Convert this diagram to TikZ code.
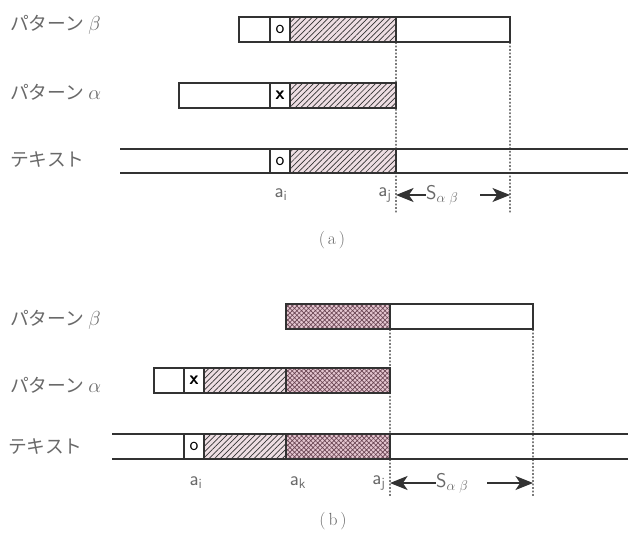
\documentclass[tikz,border=0pt]{standalone}
\usepackage{fontspec}
\newfontfamily\jpfont{Noto Sans CJK JP}
\usetikzlibrary{positioning, arrows.meta, patterns.meta}

\definecolor{hatchbg}{RGB}{238,222,227}
\definecolor{crossbg}{RGB}{228,198,208}
\definecolor{crossline}{RGB}{105,68,82}
\definecolor{inkgray}{RGB}{50,50,50}
\definecolor{labelgray}{RGB}{105,105,105}

\begin{document}
\begin{tikzpicture}[
	x=0.03cm, y=-0.03cm,
	cell/.style={rectangle, draw=inkgray, line width=0.9pt, minimum height=0.75cm, inner sep=0pt, outer sep=0pt, font=\sffamily\fontsize{16}{18}\selectfont},
	hatched/.style={cell, preaction={fill=hatchbg}, pattern={Lines[angle=45, distance=3.4pt, line width=0.6pt]}, pattern color=inkgray},
	crossed/.style={cell, preaction={fill=crossbg}, pattern={Hatch[angle=45, distance=2.8pt, line width=0.55pt]}, pattern color=crossline},
	rowlabel/.style={anchor=west, inner sep=0pt, text=labelgray, font=\jpfont\fontsize{16}{18}\selectfont},
	poslabel/.style={inner sep=1pt, text=labelgray, font=\sffamily\fontsize{17}{19}\selectfont},
	guide/.style={inkgray, line width=1pt, dash pattern=on 1.5pt off 1.5pt},
	track/.style={inkgray, line width=0.9pt},
	dim/.style={-{Stealth[length=15pt, width=12pt, inset=4pt]}, inkgray, line width=1pt},
]
	\useasboundingbox (0,0) rectangle (628,538);

	% (a) pattern beta
	\node[rowlabel] (la-beta) at (10,25) {パターン $\beta$};
	\node[cell, minimum width=0.93cm, anchor=west] (ab1) at (239,29.5) {};
	\node[cell, minimum width=0.6cm, right=0pt of ab1] (ab2) {o};
	\node[hatched, minimum width=3.18cm, right=0pt of ab2] (ab3) {};
	\node[cell, minimum width=3.42cm, right=0pt of ab3] (ab4) {};

	% (a) pattern alpha
	\node[rowlabel] (la-alpha) at (10,92) {パターン $\alpha$};
	\node[cell, minimum width=2.73cm, anchor=west] (aa1) at (179,95.5) {};
	\node[cell, minimum width=0.6cm, right=0pt of aa1, font=\sffamily\bfseries\fontsize{16}{18}\selectfont] (aa2) {x};
	\node[hatched, minimum width=3.18cm, right=0pt of aa2] (aa3) {};

	% (a) text
	\node[rowlabel] (la-text) at (10,160) {テキスト};
	\coordinate (at-tl) at (120,149);
	\coordinate (at-tr) at (628,149);
	\coordinate (at-bl) at (120,173);
	\coordinate (at-br) at (628,173);
	\draw[track] (at-tl) -- (at-tr);
	\draw[track] (at-bl) -- (at-br);
	\node[cell, minimum width=0.6cm, minimum height=0.72cm, anchor=west] (at1) at (270,161) {o};
	\node[hatched, minimum width=3.18cm, minimum height=0.72cm, right=0pt of at1] (at2) {};

	% (a) guides and shift
	\coordinate (aj-end) at (396,213);
	\coordinate (as-end) at (510,213);
	\draw[guide] (ab4.south west) -- (aj-end);
	\draw[guide] (ab4.south east) -- (as-end);
	\node[poslabel] (a-ai) at (281,195) {a\textsubscript{i}};
	\node[poslabel, anchor=east] (a-aj) at (393,195) {a\textsubscript{j}};
	\node[poslabel, anchor=west, inner sep=0pt] (a-s) at (426,195) {S$_{\alpha\;\beta}$};
	\coordinate (a-r) at (480,195);
	\draw[dim] (a-s.west) -- (aj-end |- a-s);
	\draw[dim] (a-r) -- (as-end |- a-r);
	\node[text=labelgray, font=\fontsize{15}{17}\selectfont] (cap-a) at (332,240) {(\,a\,)};

	% (b) pattern beta
	\node[rowlabel] (lb-beta) at (10,320) {パターン $\beta$};
	\node[crossed, minimum width=3.12cm, anchor=west] (bb1) at (286,316.5) {};
	\node[cell, minimum width=4.29cm, right=0pt of bb1] (bb2) {};

	% (b) pattern alpha
	\node[rowlabel] (lb-alpha) at (10,385) {パターン $\alpha$};
	\node[cell, minimum width=0.9cm, anchor=west] (ba1) at (154,380.5) {};
	\node[cell, minimum width=0.6cm, right=0pt of ba1, font=\sffamily\bfseries\fontsize{16}{18}\selectfont] (ba2) {x};
	\node[hatched, minimum width=2.46cm, right=0pt of ba2] (ba3) {};
	\node[crossed, minimum width=3.12cm, right=0pt of ba3] (ba4) {};

	% (b) text
	\node[rowlabel] (lb-text) at (8,447) {テキスト};
	\coordinate (bt-tl) at (112,434);
	\coordinate (bt-tr) at (628,434);
	\coordinate (bt-bl) at (112,459);
	\coordinate (bt-br) at (628,459);
	\draw[track] (bt-tl) -- (bt-tr);
	\draw[track] (bt-bl) -- (bt-br);
	\node[cell, minimum width=0.6cm, anchor=west] (bt1) at (184,446.5) {o};
	\node[hatched, minimum width=2.46cm, right=0pt of bt1] (bt2) {};
	\node[crossed, minimum width=3.12cm, right=0pt of bt2] (bt3) {};

	% (b) guides and shift
	\coordinate (bj-end) at (390,497);
	\coordinate (bs-end) at (533,497);
	\draw[guide] (bb2.south west) -- (bj-end);
	\draw[guide] (bb2.south east) -- (bs-end);
	\node[poslabel] (b-ai) at (196,483) {a\textsubscript{i}};
	\node[poslabel] (b-ak) at (298,483) {a\textsubscript{k}};
	\node[poslabel, anchor=east] (b-aj) at (387,483) {a\textsubscript{j}};
	\node[poslabel, anchor=west, inner sep=0pt] (b-s) at (436,483) {S$_{\alpha\;\beta}$};
	\coordinate (b-r) at (487,483);
	\draw[dim] (b-s.west) -- (bj-end |- b-s);
	\draw[dim] (b-r) -- (bs-end |- b-r);
	\node[text=labelgray, font=\fontsize{15}{17}\selectfont] (cap-b) at (333,521) {(\,b\,)};
\end{tikzpicture}
\end{document}
